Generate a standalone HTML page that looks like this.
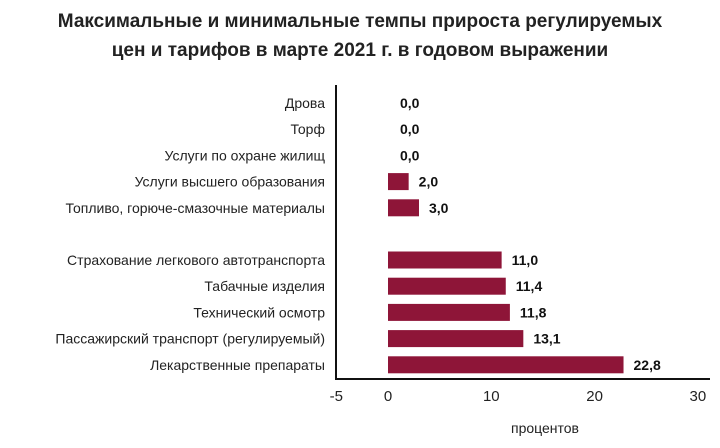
<!DOCTYPE html>
<html><head><meta charset="utf-8"><style>
body{margin:0;background:#fff;width:720px;height:443px;overflow:hidden;font-family:"Liberation Sans",sans-serif}
</style></head><body>
<svg width="720" height="443" id="c">
<text x="360" y="27" text-anchor="middle" font-size="19" font-weight="bold" fill="#222">Максимальные и минимальные темпы прироста регулируемых</text>
<text x="360" y="56" text-anchor="middle" font-size="19" font-weight="bold" fill="#222">цен и тарифов в марте 2021 г. в годовом выражении</text>
<line x1="336" y1="85" x2="336" y2="380" stroke="#111" stroke-width="2"/>
<line x1="335" y1="379" x2="710" y2="379" stroke="#111" stroke-width="2"/>
<text x="545" y="433" text-anchor="middle" font-size="14" fill="#222">процентов</text>
</svg>
<script>
const categories=["Дрова","Торф","Услуги по охране жилищ","Услуги высшего образования","Топливо, горюче-смазочные материалы","Страхование легкового автотранспорта","Табачные изделия","Технический осмотр","Пассажирский транспорт (регулируемый)","Лекарственные препараты"];
const values=[0,0,0,2.0,3.0,11.0,11.4,11.8,13.1,22.8];
const valueLabels=["0,0","0,0","0,0","2,0","3,0","11,0","11,4","11,8","13,1","22,8"];
const ticks=[-5,0,10,20,30];
const svg=document.getElementById('c');const NS='http://www.w3.org/2000/svg';
const x=v=>388+(v)*10.33;
const rowY=i=>103+i*26.2+(i>=5?26:0);
function mk(t,a){const e=document.createElementNS(NS,t);for(const k in a)e.setAttribute(k,a[k]);svg.appendChild(e);return e;}
ticks.forEach(t=>{const e=mk('text',{x:x(t),y:401,'text-anchor':'middle','font-size':15,fill:'#222'});e.textContent=t;

});
categories.forEach((c,i)=>{const y=rowY(i);
const l=mk('text',{x:325,y:y+5,'text-anchor':'end','font-size':14,fill:'#222'});l.textContent=c;


if(values[i]>0){const r=mk('rect',{x:x(0),y:y-8.5,width:x(values[i])-x(0),height:17,fill:'#8e1538'});

}
const v=mk('text',{x:(values[i]>0?x(values[i])+10:x(0)+12),y:y+5,'font-size':14,'font-weight':'bold',fill:'#111'});v.textContent=valueLabels[i];

});
</script>
</body></html>
